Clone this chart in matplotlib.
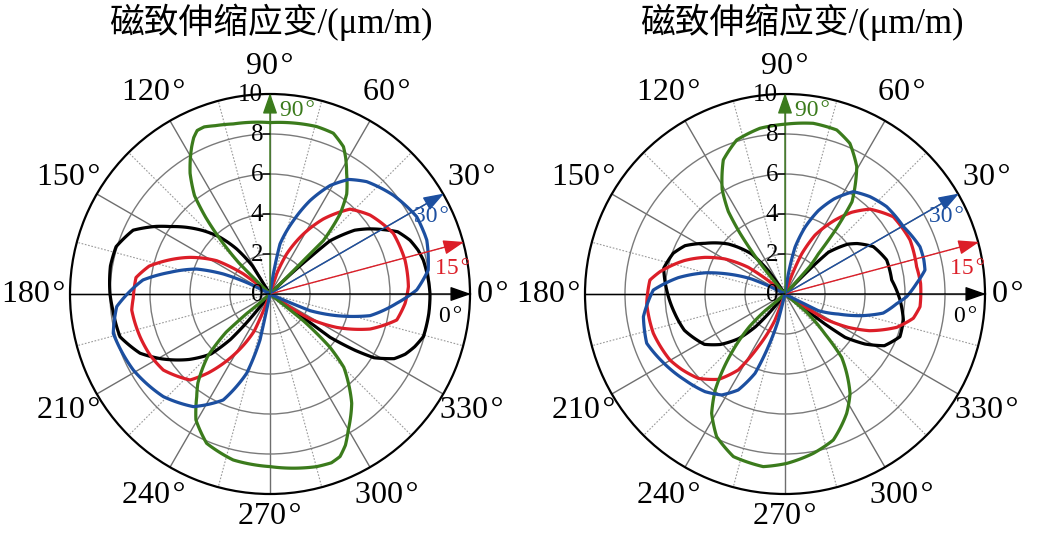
import numpy as np
import matplotlib
matplotlib.use("Agg")
import matplotlib.pyplot as plt

# ---------------- data (angle in degrees, strain in um/m) ----------------
TITLE = "磁致伸缩应变/(μm/m)"
ANGLE_TICKS = [0, 30, 60, 90, 120, 150, 180, 210, 240, 270, 300, 330]
RADIAL_TICKS = [0, 2, 4, 6, 8, 10]
FIELD_ANGLES = [0, 15, 30, 90]
FIELD_LABELS = ["0\u200a°", "15\u200a°", "30\u200a°", "90\u200a°"]

# left panel
black_a_theta = [-36, -35.5, -35.8, -33.5, -31.5, -27.5, -24, -20, -15.5, -7, 0, 5, 12.5, 16.5, 21, 26, 29.7, 33.8, 37, 41.6, 42.5, 44, 45,
                 122, 122, 126.5, 131.4, 136.5, 141.3, 146, 149.3, 155, 162.9, 170, 180, 185.8, 195.9, 204.5, 211, 215, 219, 225.5, 229, 231, 233]
black_a_r = [0, 2.0, 3.7, 5.1, 6.1, 7.0, 7.4, 7.7, 7.96, 8.0, 8.0, 7.95, 7.85, 7.72, 7.5, 7.1, 6.5, 5.85, 5.3, 4.0, 2.7, 1.3, 0,
             0, 1.64, 2.8, 3.78, 4.6, 5.33, 6.03, 6.62, 7.55, 8.05, 8.1, 8.0, 7.9, 7.8, 7.14, 6.3, 5.75, 5.2, 4.2, 3.0, 1.7, 0]

red_a_theta = [-34, -33.7, -32, -26.6, -19.3, -11.6, -4, 3, 14.1, 26.2, 38.3, 46.7, 54.6, 60.9, 67.4, 71.6, 72,
               141, 143, 148, 155.4, 162.5, 167, 173, 181.7, 186.6, 198.2, 207, 215.5, 227.1, 232, 240, 247, 250]
red_a_r = [0, 1.2, 2.36, 3.73, 5.3, 6.47, 6.77, 6.93, 6.96, 6.87, 6.37, 5.83, 4.6, 3.43, 2.17, 1.05, 0,
           0, 1.67, 3.14, 4.4, 5.5, 6.2, 6.75, 6.84, 6.96, 6.84, 6.73, 6.55, 5.87, 5.0, 3.4, 2.0, 0]

blue_a_theta = [-24, -22.6, -18, -12.2, -4.2, 1.6, 8.6, 19, 27.8, 38.7, 49.3, 55.5, 61, 66.8, 72.3, 78.7, 80.5, 81,
                152, 153.4, 156.8, 161.2, 167.8, 173.7, 184.7, 194.1, 209.1, 223.9, 235.8, 246.2, 253.6, 257.7, 258, 258.5]
blue_a_r = [0, 2.17, 3.5, 5.12, 6.35, 7.34, 8.0, 8.29, 8.29, 7.9, 7.41, 6.95, 6.2, 5.08, 3.85, 2.55, 1.01, 0,
            0, 1.12, 2.54, 3.87, 5.12, 6.39, 7.69, 8.08, 7.82, 7.4, 6.81, 5.79, 4.13, 2.35, 0.82, 0]

green_a_theta = [44.5, 45, 45, 48.8, 52.5, 57.6, 61, 63.5, 68.5, 74.4, 90, 102.2, 108, 111.5, 114, 116, 118, 120.5, 123.5, 127.5, 130, 132.5, 135, 136,
                 222, 220, 221, 225, 231, 234.5, 239.5, 247, 257.5, 270, 285.1, 290, 293.3, 296.5, 299.9, 306.8, 311, 315.2, 318.4, 321.3, 322]
green_a_r = [0, 2.36, 3.77, 5.32, 6.3, 7.15, 7.8, 8.23, 8.64, 8.69, 8.57, 8.7, 8.85, 8.98, 8.95, 8.7, 8.34, 7.85, 7.24, 6.2, 5.0, 3.6, 2.2, 0,
             0, 1.5, 2.9, 4.4, 5.73, 6.31, 7.3, 8.11, 8.5, 8.63, 8.94, 8.98, 8.85, 8.45, 7.85, 6.82, 6.0, 5.2, 4.0, 2.13, 0]

# right panel
black_b_theta = [-38, -37, -36.9, -35.8, -32, -27.5, -20.4, -12.4, -3, 7.5, 18.5, 28.2, 35, 38.5, 43.9, 45, 46,
                 124, 125.5, 129.8, 138.6, 147.6, 154.2, 160, 168, 178, 189.8, 199.8, 207.9, 212, 218, 224, 228, 230, 232]
black_b_r = [0, 1.3, 2.5, 3.7, 4.72, 5.6, 6.13, 6.06, 5.76, 5.38, 5.36, 5.01, 4.4, 4.0, 3.0, 1.9, 0,
             0, 1.43, 2.6, 3.78, 4.73, 5.55, 5.95, 6.2, 5.92, 5.6, 5.35, 4.95, 4.75, 4.1, 3.2, 2.2, 1.3, 0]

red_b_theta = [-34, -33, -32, -27.8, -23.5, -16.6, -10.7, -5.4, 4.5, 11.7, 23.4, 35.5, 45, 50.8, 56, 63, 67.4, 70, 71,
               140, 141.3, 144, 149.7, 155.4, 161.6, 169.9, 174.1, 183.9, 196.6, 209.9, 216, 224.2, 232.2, 238.4, 243.1, 249, 250]
red_b_r = [0, 1.2, 2.36, 3.58, 4.6, 5.83, 6.53, 6.78, 6.8, 6.72, 6.81, 6.65, 6.0, 5.27, 4.45, 3.3, 2.17, 1.0, 0,
           0, 1.07, 2.27, 3.47, 4.4, 5.3, 6.35, 6.79, 6.93, 6.87, 6.63, 6.4, 6.05, 5.4, 4.46, 2.95, 1.39, 0]

blue_b_theta = [-28, -27, -26.6, -20.6, -15.8, -11, -5, -1.3, 4.6, 9.7, 14, 19.3, 29.6, 40.7, 48.9, 56.3, 62.7, 68.2, 73.3, 77.9, 80.5, 81,
                153, 153.4, 155.8, 160.6, 165, 171.3, 178.3, 189.1, 199.6, 209, 220.7, 230.7, 237.9, 244, 249.3, 252.4, 255.6, 256]
blue_b_r = [0, 1.0, 1.86, 2.85, 3.98, 5.0, 5.6, 6.08, 6.6, 7.1, 7.15, 7.15, 6.81, 6.7, 6.46, 6.15, 5.35, 4.49, 3.48, 2.39, 1.01, 0,
            0, 0.75, 1.83, 3.0, 4.1, 5.4, 6.59, 7.17, 7.34, 7.0, 6.6, 6.31, 5.96, 5.34, 4.24, 2.76, 1.34, 0]

green_b_theta = [47, 48, 50.2, 51.7, 54, 60.6, 66.7, 72.5, 80.6, 89.4, 98.6, 107.4, 114.7, 121, 124.5, 126.5, 128.7, 131,
                 221, 220, 222.5, 227.5, 231, 234, 238.4, 244.4, 252.4, 262.8, 270.6, 280.1, 288.3, 297.3, 303.2, 308, 311.8, 315, 320, 321]
green_b_r = [0, 1.85, 2.6, 4.03, 5.7, 7.31, 8.2, 8.6, 8.65, 8.5, 8.38, 8.07, 7.38, 6.1, 5.0, 3.8, 2.13, 0,
             0, 1.3, 2.4, 3.9, 5.0, 5.94, 7.0, 7.91, 8.53, 8.7, 8.47, 8.09, 7.69, 6.72, 5.94, 5.0, 4.25, 2.83, 1.3, 0]

# ---------------- style ----------------
C_BLACK = "#000000"
C_RED = "#dc1e28"
C_BLUE = "#1c4fa0"
C_GREEN = "#3b7b1c"
FIELD_COLORS = [C_BLACK, C_RED, C_BLUE, C_GREEN]
SERIF = ["Liberation Serif", "DejaVu Serif"]
CJK = ["Liberation Serif", "Noto Sans CJK SC", "DejaVu Sans"]

fig = plt.figure(figsize=(10.49, 5.39), dpi=100)
W, H = 1049, 539
RAD = 200


def panel(cx, cy, curves):
    ax = fig.add_axes([(cx - RAD) / W, (H - cy - RAD) / H, 2 * RAD / W, 2 * RAD / H],
                      projection="polar")
    ax.set_ylim(0, 10)
    ax.set_yticks([2, 4, 6, 8])
    ax.set_yticklabels([])
    ax.set_xticks(np.deg2rad(ANGLE_TICKS))
    ax.set_xticklabels([])
    ax.set_xticks(np.deg2rad(np.arange(15, 360, 30)), minor=True)
    ax.set_xticklabels([], minor=True)
    ax.xaxis.grid(True, which="major", color="#6e6e6e", lw=1.0, ls="-")
    ax.xaxis.grid(True, which="minor", color="#9a9a9a", lw=0.8, ls=(0, (1.5, 1.5)))
    ax.yaxis.grid(True, color="#7a7a7a", lw=1.0, ls="-")
    ax.tick_params(axis="x", which="both", direction="in", length=6, width=1.2, color="black")
    ax.tick_params(axis="y", length=0)
    ax.spines["polar"].set_linewidth(1.6)
    ax.spines["polar"].set_color("black")

    # black 180 deg spoke
    ax.plot([np.pi, np.pi], [0, 10], color="black", lw=1.0, zorder=2)

    for th, r, c in curves:
        line, = ax.plot(np.deg2rad(th), r, color=c, lw=2.3, solid_joinstyle="round",
                        solid_capstyle="round", zorder=3)
        # let the polar transform draw each segment as a curve in (theta, r)
        line.get_path()._interpolation_steps = 24

    # field-direction arrows
    for a, c in zip(FIELD_ANGLES, FIELD_COLORS):
        ax.annotate("", xy=(np.deg2rad(a), 10.05), xytext=(0, 0),
                    arrowprops=dict(arrowstyle="-|>,head_length=0.8,head_width=0.28",
                                    color=c, lw=1.0, shrinkA=0, shrinkB=0, mutation_scale=16),
                    annotation_clip=False, zorder=4)
    label_pos = {0: (9.1, -7.2), 15: (9.2, 8.0), 30: (8.95, 25.8), 90: (9.3, 81.5)}
    for a, lab, c in zip(FIELD_ANGLES, FIELD_LABELS, FIELD_COLORS):
        rr, tt = label_pos[a]
        ax.text(np.deg2rad(tt), rr, lab, color=c, fontsize=17, family=SERIF,
                ha="center", va="center", zorder=5)

    # radial tick labels along 90 deg
    for r in RADIAL_TICKS:
        ax.annotate(str(r), xy=(np.pi / 2, r), xytext=(-5.0, -0.5), textcoords="offset points",
                    ha="right", va="center", fontsize=18, family=SERIF, zorder=5,
                    annotation_clip=False)
        ax.annotate("", xy=(np.pi / 2, r), xytext=(-5, 0), textcoords="offset points",
                    arrowprops=dict(arrowstyle="-", color="black", lw=1.0, shrinkA=0, shrinkB=0),
                    annotation_clip=False, zorder=5)

    # angular labels
    lab_r = {0: 11.15, 90: 11.4, 180: 11.8, 270: 11.15}
    for a in ANGLE_TICKS:
        rr = lab_r.get(a, 11.65)
        ax.text(np.deg2rad(a), rr, f"{a}\u200a°", fontsize=23, family=SERIF,
                ha="center", va="center", clip_on=False)
    return ax


panel(270, 294, [(black_a_theta, black_a_r, C_BLACK), (red_a_theta, red_a_r, C_RED),
                 (green_a_theta, green_a_r, C_GREEN), (blue_a_theta, blue_a_r, C_BLUE)])
panel(785, 294, [(black_b_theta, black_b_r, C_BLACK), (red_b_theta, red_b_r, C_RED),
                 (green_b_theta, green_b_r, C_GREEN), (blue_b_theta, blue_b_r, C_BLUE)])

fig.text(271 / W, 1 - 22 / H, TITLE, ha="center", va="center", fontsize=25, family=CJK)
fig.text(802 / W, 1 - 22 / H, TITLE, ha="center", va="center", fontsize=25, family=CJK)

fig.savefig("out.png", dpi=100, facecolor="white")
